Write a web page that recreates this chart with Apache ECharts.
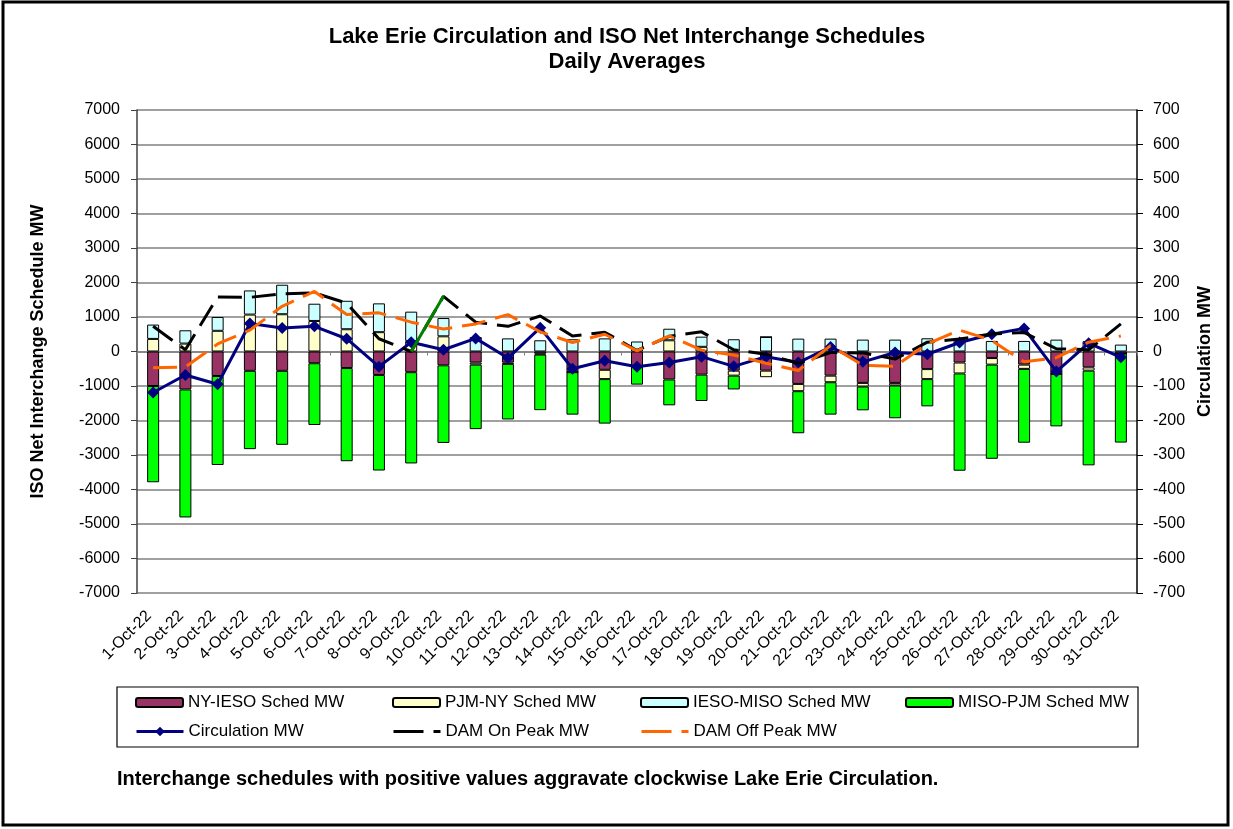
<!DOCTYPE html>
<html>
<head>
<meta charset="utf-8">
<script src="https://cdn.jsdelivr.net/npm/echarts@6/dist/echarts.min.js"></script>
<style>
html,body{margin:0;padding:0;background:#fff;}
#c{width:1233px;height:829px;}
</style>
</head>
<body>
<div id="c"></div>
<script>
var categories = [];
for (var d = 1; d <= 31; d++) { categories.push(d + '-Oct-22'); }

var nyIeso   = [-1000,-1100,-710,-560,-560,-340,-480,-680,-600,-400, -320,-320,-60,-600,-530,-430,-810,-670,-555,-555, -940,-700,-910,-910,-510,-320,-190,-380,-650,-460,-60];
var pjmNy    = [365,230,600,1070,1080,885,645,560,300,440, -60,-40,-30,0,-270,0,325,135,-145,-190, -210,-190,-105,-75,-290,-316,-190,-124,0,-95,0];
var iesoMiso = [415,385,400,700,855,500,825,835,855,530, 420,380,325,355,380,290,335,295,355,420, 373,373,345,345,383,354,306,306,344,300,200];
var misoPjm  = [-2790,-3710,-2580,-2270,-2145,-1790,-2700,-2770,-2645,-2250, -1870,-1610,-1610,-1230,-1290,-530,-750,-765,-400,0, -1220,-940,-690,-950,-790,-2820,-2730,-2140,-1520,-2745,-2580];
var circulation = [-119,-68,-95,81,68,73,37,-44,27,5, 38,-19,69,-50,-27,-44,-32,-15,-43,-15, -32,13,-30,-3,-8,26,50,67,-58,24,-17];
var damOn  = [73,5,158,157,167,170,140,37,0,160, 85,73,103,45,56,3,44,57,5,-8, -34,-3,-4,-22,27,36,51,55,8,5,80];
var damOff = [-47,-45,22,62,131,174,107,112,85,65, 80,107,57,26,50,2,45,4,-10,-34, -55,17,-40,-43,22,62,32,-30,-18,27,45];
var greenSegIdx = [8, 9];

var leftTicks = {min:-7000, max:7000, interval:1000};
var rightTicks = {min:-700, max:700, interval:100};

var FONT = "'Liberation Sans', Arial, sans-serif";
var chart = echarts.init(document.getElementById('c'));

function barSeries(name, data, color) {
  return {
    name: name, type: 'bar', stack: 'sched', data: data, barWidth: 12,
    itemStyle: {color: color, borderColor: '#000', borderWidth: 1},
    z: 2
  };
}
function legendAt(name, left, top, kind) {
  var l = {
    data: [name], left: left, top: top, padding: 0, itemWidth: 47, itemHeight: 9,
    selectedMode: false,
    textStyle: {fontSize: 17, fontFamily: FONT, color: '#000'}
  };
  if (kind === 'dash') {
    l.itemStyle = {opacity: 0};
    l.lineStyle = {type: [30, 10], width: 3};
  } else if (kind === 'marker') {
    l.itemHeight = 12;
    l.lineStyle = {width: 3};
  }
  return l;
}

var onSeg = damOn.map(function (v, i) { return greenSegIdx.indexOf(i) >= 0 ? v : null; });

chart.setOption({
  animation: false,
  backgroundColor: '#fff',
  textStyle: {fontFamily: FONT},
  title: [
    {
      text: 'Lake Erie Circulation and ISO Net Interchange Schedules',
      left: 622, top: 21, textAlign: 'center',
      textStyle: {fontSize: 22, fontWeight: 'bold', color: '#000', fontFamily: FONT}
    },
    {
      text: 'Daily Averages',
      left: 622, top: 46, textAlign: 'center',
      textStyle: {fontSize: 22, fontWeight: 'bold', color: '#000', fontFamily: FONT}
    },
    {
      text: 'Interchange schedules with positive values aggravate clockwise Lake Erie Circulation.',
      left: 112, top: 764,
      textStyle: {fontSize: 20, fontWeight: 'bold', color: '#000', fontFamily: FONT}
    }
  ],
  legend: [
    legendAt('NY-IESO Sched MW', 135, 694),
    legendAt('PJM-NY Sched MW', 392, 694),
    legendAt('IESO-MISO Sched MW', 640, 694),
    legendAt('MISO-PJM Sched MW', 905, 694),
    legendAt('Circulation MW', 135, 723, 'marker'),
    legendAt('DAM On Peak MW', 392, 723, 'dash'),
    legendAt('DAM Off Peak MW', 640, 723, 'dash')
  ],
  graphic: [
    {type: 'rect', shape: {x: 3, y: 2, width: 1225, height: 823}, style: {fill: 'none', stroke: '#000', lineWidth: 3}, silent: true},
    {type: 'rect', shape: {x: 117, y: 687, width: 1021, height: 60}, style: {fill: 'none', stroke: '#000', lineWidth: 1.2}, silent: true}
  ],
  grid: {left: 137, right: 96, top: 110, bottom: 236, containLabel: false},
  xAxis: [
    {
      type: 'category', data: categories, position: 'bottom',
      axisLine: {show: false, onZero: false},
      axisTick: {show: false},
      axisLabel: {rotate: 45, fontSize: 16, color: '#000', margin: 16, interval: 0, fontFamily: FONT, padding: [0, 6, 0, 0]},
      splitLine: {show: false}
    },
    {
      type: 'category', data: categories, position: 'bottom',
      axisLine: {show: true, onZero: true, onZeroAxisIndex: 0, lineStyle: {color: '#808080', width: 1.5}},
      axisTick: {show: true, length: 4, lineStyle: {color: '#808080'}},
      axisLabel: {show: false},
      splitLine: {show: false}
    }
  ],
  yAxis: [
    {
      type: 'value', position: 'left',
      min: leftTicks.min, max: leftTicks.max, interval: leftTicks.interval,
      name: 'ISO Net Interchange Schedule MW', nameLocation: 'middle', nameRotate: 90, nameGap: 90,
      nameTextStyle: {fontSize: 18, fontWeight: 'bold', color: '#000', fontFamily: FONT},
      axisLine: {show: true, lineStyle: {color: '#404040', width: 1.5}},
      axisTick: {show: true, length: 6, lineStyle: {color: '#404040'}},
      axisLabel: {fontSize: 16, color: '#000', margin: 17, fontFamily: FONT, formatter: function (v) { return String(v); }},
      splitLine: {show: true, lineStyle: {color: '#808080', width: 1.5}}
    },
    {
      type: 'value', position: 'right',
      min: rightTicks.min, max: rightTicks.max, interval: rightTicks.interval,
      name: 'Circulation MW', nameLocation: 'middle', nameRotate: 90, nameGap: 57,
      nameTextStyle: {fontSize: 18, fontWeight: 'bold', color: '#000', fontFamily: FONT},
      axisLine: {show: true, lineStyle: {color: '#000', width: 1.5}},
      axisTick: {show: true, length: 6, lineStyle: {color: '#000'}},
      axisLabel: {fontSize: 16, color: '#000', margin: 16, fontFamily: FONT, formatter: function (v) { return String(v); }},
      splitLine: {show: false}
    }
  ],
  series: [
    barSeries('NY-IESO Sched MW', nyIeso, '#993366'),
    barSeries('PJM-NY Sched MW', pjmNy, '#FFFFCC'),
    barSeries('IESO-MISO Sched MW', iesoMiso, '#CCFFFF'),
    barSeries('MISO-PJM Sched MW', misoPjm, '#00FF00'),
    {
      name: 'Circulation MW', type: 'line', yAxisIndex: 1, data: circulation,
      symbol: 'diamond', symbolSize: 12, showSymbol: true,
      lineStyle: {color: '#000080', width: 3},
      itemStyle: {color: '#000080'},
      z: 5
    },
    {
      name: 'DAM On Peak MW', type: 'line', yAxisIndex: 1, data: damOn,
      symbol: 'none', showSymbol: false,
      lineStyle: {color: '#000', width: 3, type: [24, 10]},
      itemStyle: {color: '#000'},
      z: 6
    },
    {
      name: 'DAM On Peak segment', type: 'line', yAxisIndex: 1, data: onSeg,
      symbol: 'none', showSymbol: false, connectNulls: false,
      lineStyle: {color: '#008000', width: 3},
      itemStyle: {color: '#008000'},
      z: 6
    },
    {
      name: 'DAM Off Peak MW', type: 'line', yAxisIndex: 1, data: damOff,
      symbol: 'none', showSymbol: false,
      lineStyle: {color: '#FF6600', width: 3, type: [24, 10]},
      itemStyle: {color: '#FF6600'},
      z: 7
    }
  ]
});
</script>
</body>
</html>
